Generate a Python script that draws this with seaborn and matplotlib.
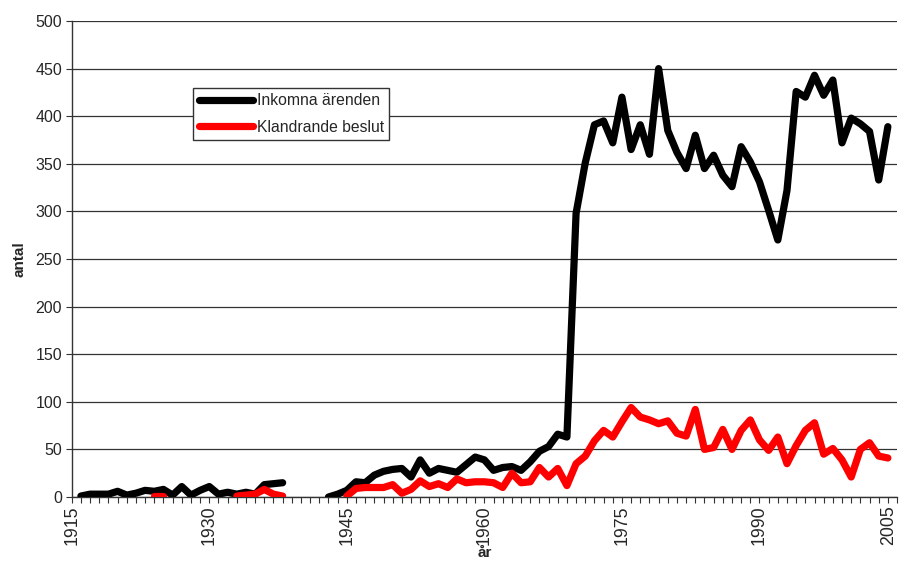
#!/usr/bin/env python3
"""
Inkomna ärenden / Klandrande beslut per år
"""
import numpy as np
import pandas as pd
import matplotlib
matplotlib.use('Agg')
import matplotlib.pyplot as plt
import seaborn as sns
from matplotlib.lines import Line2D
from matplotlib.ticker import MultipleLocator, FixedLocator

# Data
inkomna_early = [1, 3, 3, 3, 6, 2, 4, 7, 6, 8, 2, 11, 2, 7, 11, 3, 5, 3, 5, 3, 13, 14, 15]   # 1916-1938
inkomna_mid = [0, 3, 7, 16, 15, 23, 27, 29, 30, 21, 39, 25, 30, 28, 26, 34, 42, 39, 28, 31,
               32, 28, 37, 48, 53, 66, 63]                                                   # 1943-1969
inkomna_late = [298, 351, 391, 395, 372, 420, 365, 391, 360, 450, 385, 362, 345, 380, 345,
                359, 338, 326, 368, 352, 331, 301, 270, 322, 426, 420, 443, 422, 438, 372,
                398, 392, 384, 333, 389]                                                     # 1970-2004

klandr_a = [1, 1]                                    # 1924-1925
klandr_b = [1, 2, 3, 8, 3, 1]                        # 1933-1938
klandr_c = [1, 9, 10, 10, 10, 13, 4, 8, 17, 11, 14, 10, 19, 15, 16, 16, 15, 10, 25, 15,
            16, 31, 21, 30, 12, 35, 43, 59, 70, 63, 79, 94, 84, 81, 77, 80, 67, 64, 92,
            50, 52, 71, 50, 70, 81, 60, 49, 63, 35, 54, 70, 78, 45, 51, 39, 21, 50, 57,
            43, 41]                                  # 1945-2004

year_ticks = list(range(1915, 2006, 15))

rows = []
for start, vals, seg in [(1916, inkomna_early, 0), (1943, inkomna_mid + inkomna_late, 1)]:
    for i, v in enumerate(vals):
        rows.append({'år': start + i, 'antal': v, 'serie': 'Inkomna ärenden', 'seg': seg})
for start, vals, seg in [(1924, klandr_a, 0), (1933, klandr_b, 1), (1945, klandr_c, 2)]:
    for i, v in enumerate(vals):
        rows.append({'år': start + i, 'antal': v, 'serie': 'Klandrande beslut', 'seg': seg})
df = pd.DataFrame(rows)

colors = {'Inkomna ärenden': '#000000', 'Klandrande beslut': '#ff0000'}

sns.set_style('white')
plt.rcParams['font.family'] = ['Liberation Sans', 'DejaVu Sans']
plt.rcParams['font.size'] = 11

fig = plt.figure(figsize=(9.01, 5.63), dpi=100)
ax = fig.add_axes([0.0796, 0.1172, 0.9160, 0.8455])

for serie in ['Inkomna ärenden', 'Klandrande beslut']:
    sub = df[df['serie'] == serie]
    sns.lineplot(data=sub, x='år', y='antal', units='seg', estimator=None,
                 color=colors[serie], linewidth=5.2, legend=False, ax=ax,
                 solid_capstyle='round', solid_joinstyle='round', zorder=3)

ax.set_xlim(1915, 2005)
ax.set_ylim(0, 500)
ax.yaxis.set_major_locator(MultipleLocator(50))
ax.xaxis.set_major_locator(FixedLocator(year_ticks))
ax.xaxis.set_minor_locator(MultipleLocator(1))
ax.set_xticklabels([str(t) for t in year_ticks], rotation=90, fontsize=12.8)
# last label sits against the right edge, as in the original
ax.get_xticklabels()[-1].set_horizontalalignment('right')
ax.tick_params(axis='x', which='both', direction='out', length=4, width=0.8,
               color='#333333', bottom=True, pad=2)
ax.tick_params(axis='y', direction='out', length=4, width=0.8, color='#333333',
               left=True, pad=3, labelsize=11.5)

ax.grid(axis='y', color='#333333', linewidth=0.9)
ax.set_axisbelow(True)
for side in ['top', 'right']:
    ax.spines[side].set_visible(False)
for side in ['left', 'bottom']:
    ax.spines[side].set_color('#333333')
    ax.spines[side].set_linewidth(1.0)

ax.set_ylabel('antal', fontweight='bold', labelpad=6)
ax.set_xlabel('år', fontweight='bold', labelpad=1)

handles = [Line2D([0], [0], color=colors[s], linewidth=5.2, solid_capstyle='round')
           for s in colors]
leg = ax.legend(handles, list(colors), loc='upper left', bbox_to_anchor=(0.147, 0.86),
                frameon=True, fancybox=False, framealpha=1, edgecolor='#333333',
                handlelength=3.5, handletextpad=0.2, labelspacing=0.75,
                borderpad=0.35, borderaxespad=0, fontsize=11.3)
leg.get_frame().set_linewidth(1.0)

plt.savefig('out.png', dpi=100)
plt.close()
